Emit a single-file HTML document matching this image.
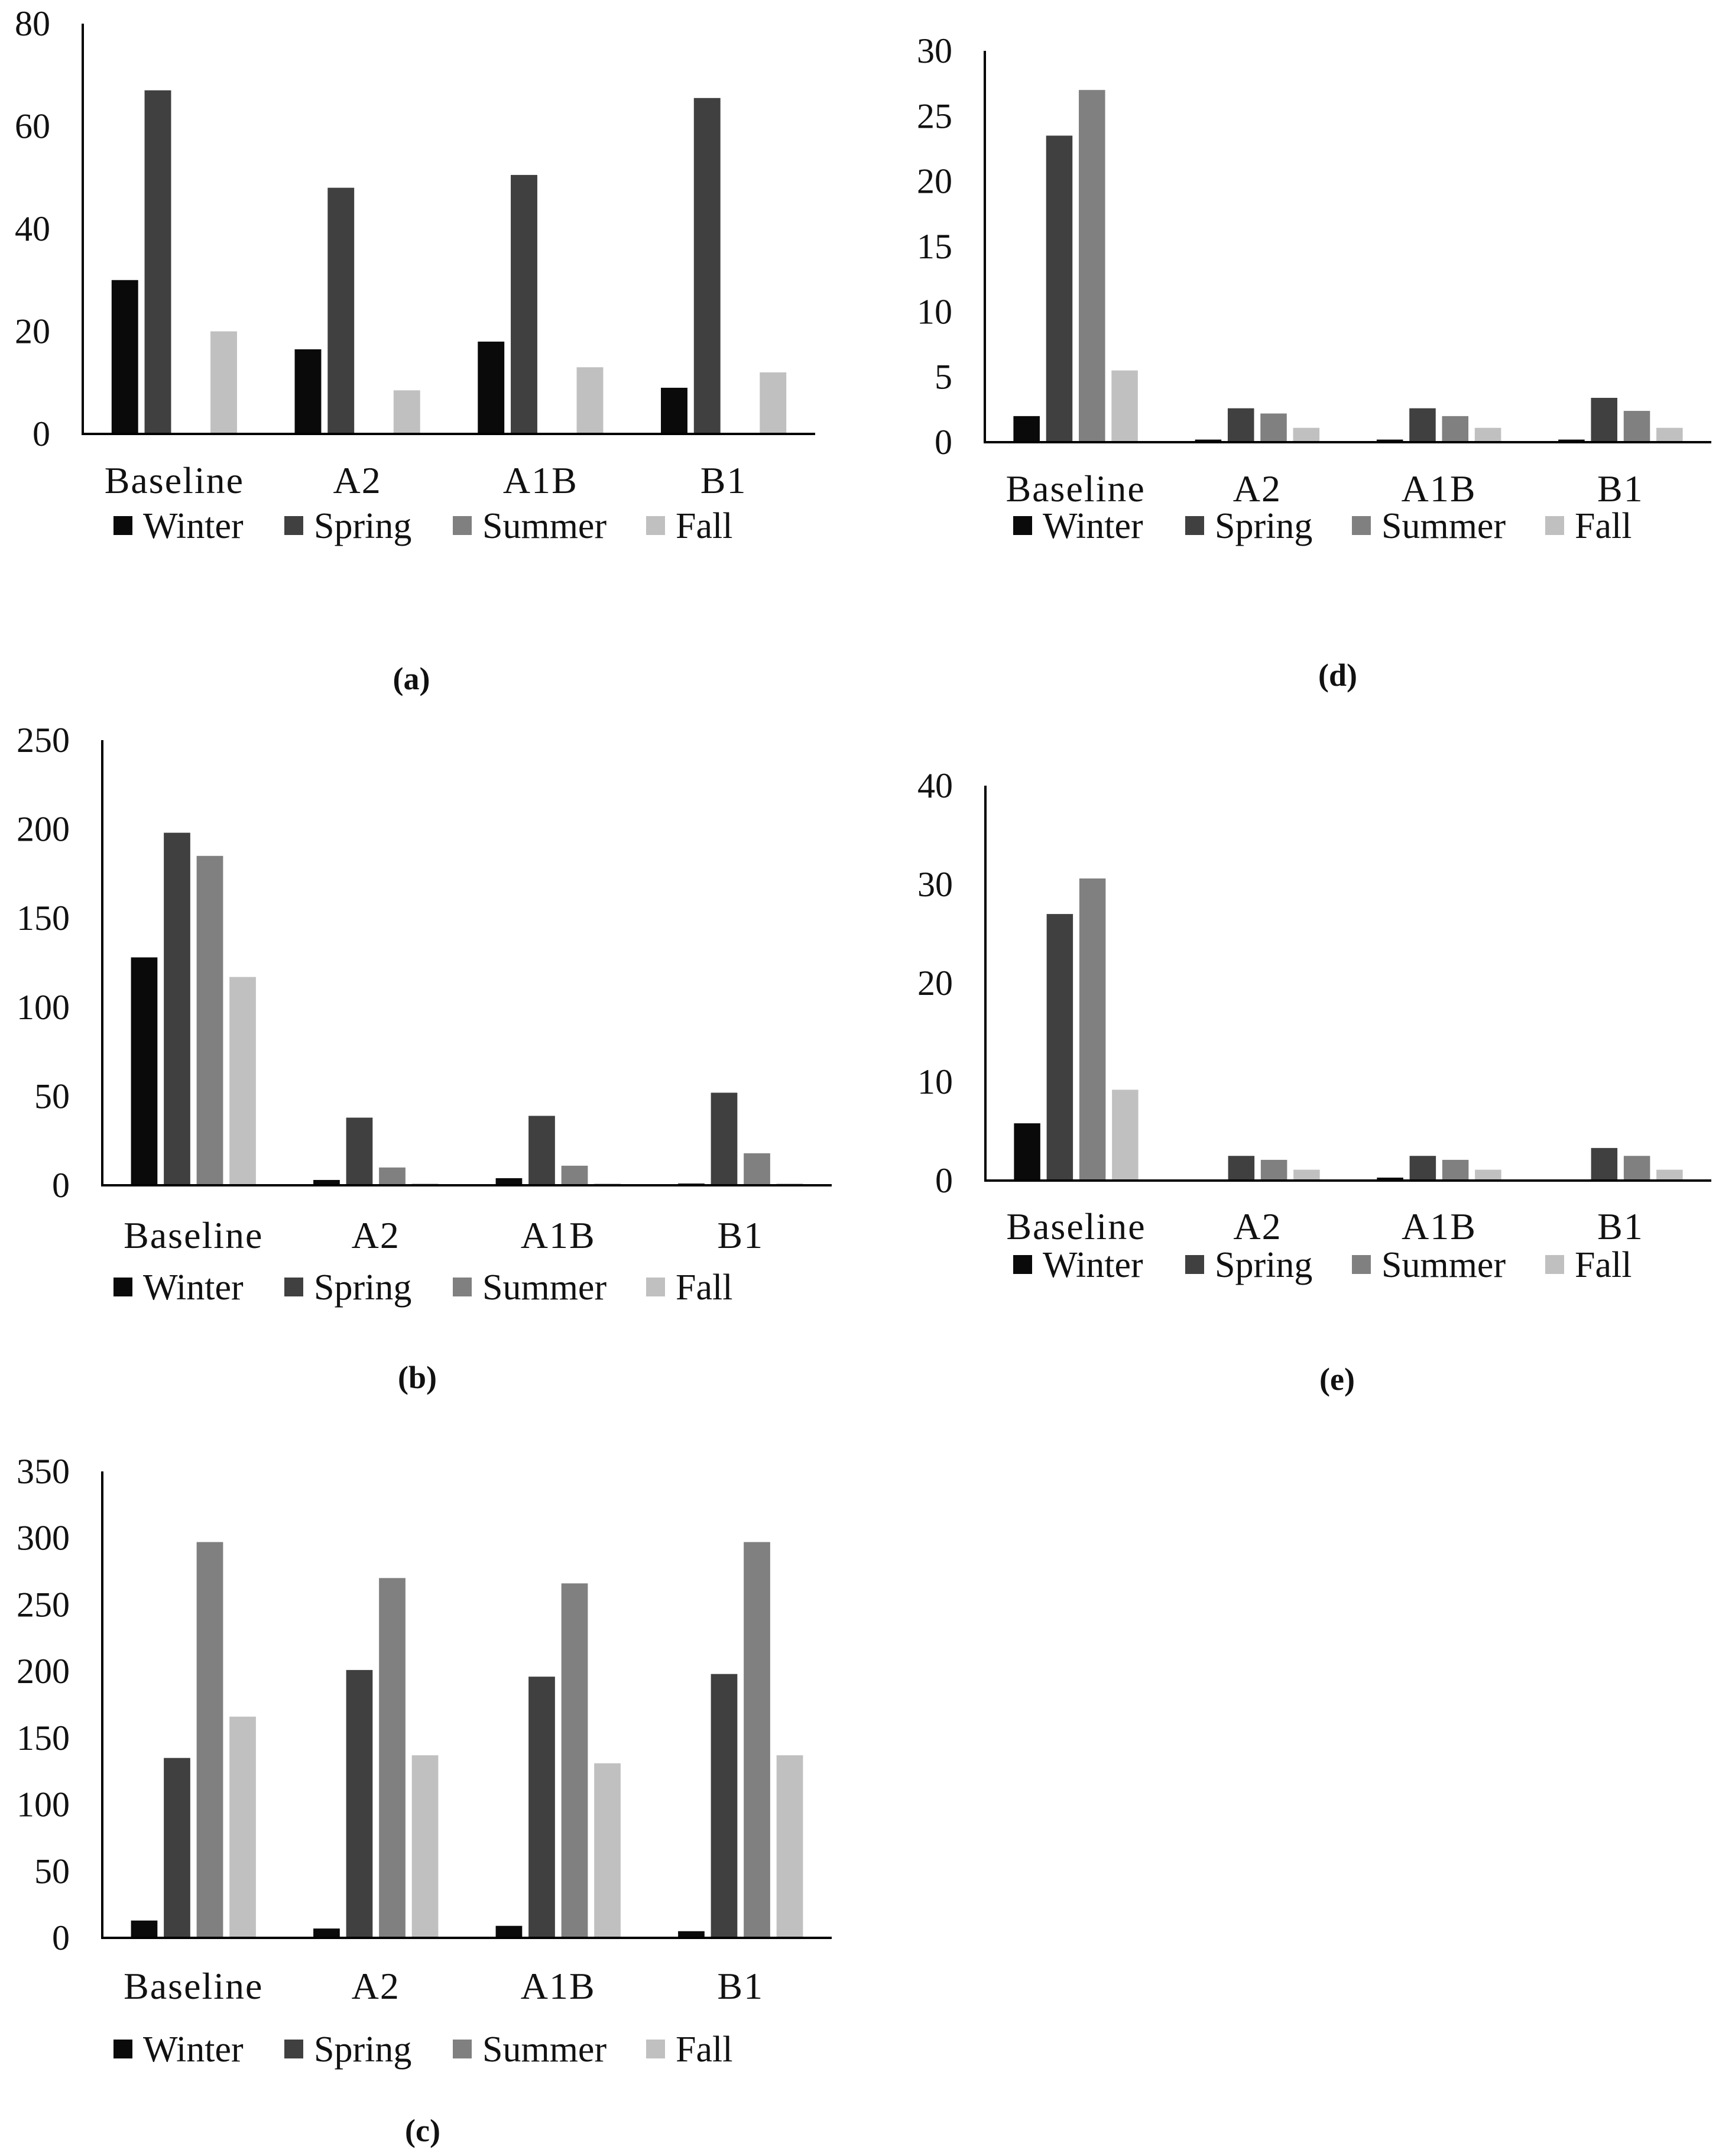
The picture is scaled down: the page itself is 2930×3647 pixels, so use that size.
<!DOCTYPE html>
<html><head><meta charset="utf-8">
<style>
html,body{margin:0;padding:0;background:#fff;}
svg{display:block;font-family:"Liberation Serif",serif;}
</style></head>
<body>
<svg id="fig" width="2930" height="3647" viewBox="0 0 2930 3647" xmlns="http://www.w3.org/2000/svg">
<rect width="2930" height="3647" fill="#fff"/>
</svg>
<script>
const categories = ["Baseline","A2","A1B","B1"];
const seriesNames = ["Winter","Spring","Summer","Fall"];
const seriesColors = ["#0a0a0a","#404040","#808080","#c0c0c0"];

// chart (a)
const aWinter = [30, 16.5, 18, 9];
const aSpring = [67, 48, 50.5, 65.5];
const aSummer = [0, 0, 0, 0];
const aFall = [20, 8.5, 13, 12];
const aTicks = [0, 20, 40, 60, 80];

// chart (b)
const bWinter = [128, 3, 4, 1];
const bSpring = [198, 38, 39, 52];
const bSummer = [185, 10, 11, 18];
const bFall = [117, 1, 1, 1];
const bTicks = [0, 50, 100, 150, 200, 250];

// chart (c)
const cWinter = [13, 7, 9, 5];
const cSpring = [135, 201, 196, 198];
const cSummer = [297, 270, 266, 297];
const cFall = [166, 137, 131, 137];
const cTicks = [0, 50, 100, 150, 200, 250, 300, 350];

// chart (d)
const dWinter = [2.0, 0.2, 0.2, 0.2];
const dSpring = [23.5, 2.6, 2.6, 3.4];
const dSummer = [27, 2.2, 2.0, 2.4];
const dFall = [5.5, 1.1, 1.1, 1.1];
const dTicks = [0, 5, 10, 15, 20, 25, 30];

// chart (e)
const eWinter = [5.8, 0, 0.3, 0];
const eSpring = [27, 2.5, 2.5, 3.3];
const eSummer = [30.6, 2.1, 2.1, 2.5];
const eFall = [9.2, 1.1, 1.1, 1.1];
const eTicks = [0, 10, 20, 30, 40];

const NS = "http://www.w3.org/2000/svg";
const svg = document.getElementById("fig");
function mk(tag, attrs, parent){
  const e = document.createElementNS(NS, tag);
  for (const k in attrs) e.setAttribute(k, attrs[k]);
  parent.appendChild(e);
  return e;
}

function drawChart(id, series, ticks, L){
  const g = mk("g", {}, svg);
  
  
  const maxV = ticks[ticks.length-1];
  const y = v => L.base - (v / maxV) * (L.base - L.top);
  const catW = (L.right - L.x0) / categories.length;
  const barW = catW * 0.145, step = catW * 0.18;
  ticks.forEach(t => {
    const tx = mk("text", {x: L.x0 - 55, y: y(t) + 20, "text-anchor": "end", "font-size": 60, fill: "#111"}, g);
    tx.textContent = t;
    
    
  });
  categories.forEach((c, ci) => {
    const cx = L.x0 + catW * (ci + 0.5);
    series.forEach((vals, si) => {
      const v = vals[ci];
      if (v <= 0) return;
      const bx = cx - 1.5 * step + si * step - barW / 2;
      const r = mk("rect", {x: bx, y: y(v), width: barW, height: L.base - y(v), fill: seriesColors[si]}, g);
      
      
    });
    const lt = mk("text", {x: cx, y: L.catY + 22, "text-anchor": "middle", "font-size": 64, fill: "#111", "letter-spacing": 2}, g);
    lt.textContent = c;
    
    
  });
  const ya = mk("line", {x1: L.x0, y1: L.top, x2: L.x0, y2: L.base, stroke: "#000", "stroke-width": 4}, g);
  
  
  const xa = mk("line", {x1: L.x0 - 2, y1: L.base, x2: L.right, y2: L.base, stroke: "#000", "stroke-width": 4}, g);
  
  
  seriesNames.forEach((n, si) => {
    const sq = mk("rect", {x: L.legX[si], y: L.legY - 16, width: 32, height: 32, fill: seriesColors[si]}, g);
    
    
    const lt = mk("text", {x: L.legX[si] + 50, y: L.legY + 21, "font-size": 62, fill: "#111"}, g);
    lt.textContent = n;
    
    
  });
  const cap = mk("text", {x: L.capX, y: L.capY + 18, "text-anchor": "middle", "font-size": 54, "font-weight": "bold", fill: "#111"}, g);
  cap.textContent = "(" + id + ")";
  
  
}

const legLeft = [192, 481, 766, 1093];
const legRight = [1714, 2005, 2287, 2614];
drawChart("a", [aWinter, aSpring, aSummer, aFall], aTicks,
  {x0:140, right:1379, top:40, base:734, catY:812, legY:889, legX:legLeft, capX:696, capY:1148});
drawChart("b", [bWinter, bSpring, bSummer, bFall], bTicks,
  {x0:173, right:1407, top:1252, base:2005, catY:2089, legY:2177, legX:legLeft, capX:706, capY:2330});
drawChart("c", [cWinter, cSpring, cSummer, cFall], cTicks,
  {x0:173, right:1407, top:2489, base:3278, catY:3359, legY:3466, legX:legLeft, capX:715, capY:3604});
drawChart("d", [dWinter, dSpring, dSummer, dFall], dTicks,
  {x0:1666, right:2895, top:86, base:748, catY:826, legY:889, legX:legRight, capX:2263, capY:1142});
drawChart("e", [eWinter, eSpring, eSummer, eFall], eTicks,
  {x0:1667, right:2895, top:1329, base:1997, catY:2074, legY:2139, legX:legRight, capX:2262, capY:2333});
</script>
</body></html>
